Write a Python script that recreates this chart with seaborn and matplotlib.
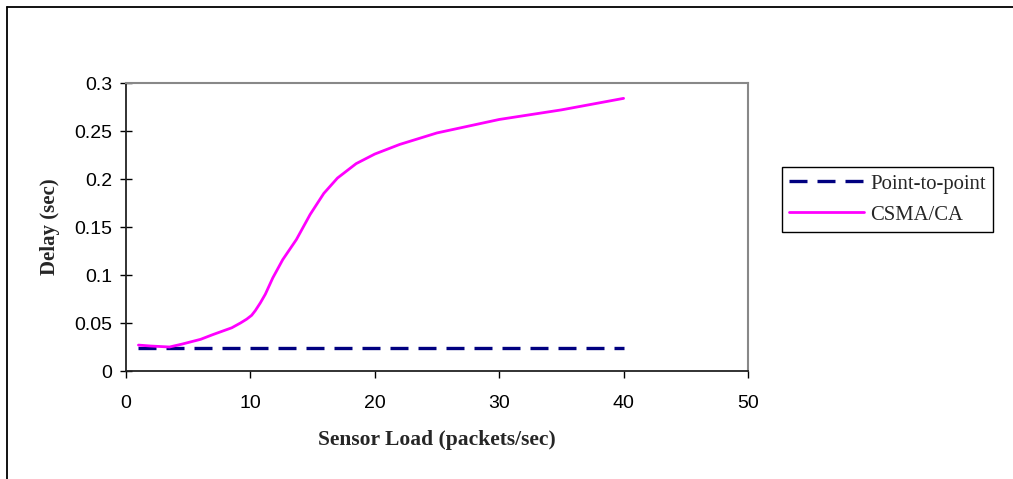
import matplotlib
matplotlib.use("Agg")
import matplotlib.pyplot as plt
from matplotlib.lines import Line2D
import seaborn as sns
import pandas as pd

# Sensor load (packets/sec) and measured delay (sec)
load_p2p = [1, 40]
delay_p2p = [0.024, 0.024]

load_csma = [1, 2, 3.5, 4.5, 6, 7, 8.5, 9.2, 9.7, 10.1, 10.4, 10.8, 11.2,
             11.8, 12.6, 13.7, 14.8, 15.9, 17, 18.5, 20, 22, 25, 30, 35, 40]
delay_csma = [0.027, 0.026, 0.025, 0.028, 0.033, 0.038, 0.045, 0.050, 0.054,
              0.058, 0.063, 0.071, 0.080, 0.097, 0.116, 0.137, 0.163, 0.185,
              0.201, 0.216, 0.226, 0.236, 0.248, 0.262, 0.272, 0.284]

x_ticks = [0, 10, 20, 30, 40, 50]
y_ticks = [0, 0.05, 0.1, 0.15, 0.2, 0.25, 0.3]
y_tick_labels = ["0", "0.05", "0.1", "0.15", "0.2", "0.25", "0.3"]

sns.set_theme(style="white")
plt.rcParams["font.family"] = ["Liberation Sans", "DejaVu Sans"]

fig = plt.figure(figsize=(10.13, 4.79), dpi=100)
ax = fig.add_axes([126 / 1013, 1 - 371 / 479, 622 / 1013, 288 / 479])

df_p2p = pd.DataFrame({"load": load_p2p, "delay": delay_p2p})
df_csma = pd.DataFrame({"load": load_csma, "delay": delay_csma})

P2P_LW, CSMA_LW = 2.4, 2.0
P2P_DASH = (5.4, 3.0)

sns.lineplot(data=df_p2p, x="load", y="delay", ax=ax, color="#000080",
             linewidth=P2P_LW, sort=False)
ax.lines[-1].set_dashes(P2P_DASH)
ax.lines[-1].set_dash_capstyle("butt")
sns.lineplot(data=df_csma, x="load", y="delay", ax=ax, color="#FF00FF",
             linewidth=CSMA_LW, sort=False)
ax.lines[-1].set_solid_joinstyle("round")

ax.set_xlim(0, 50)
ax.set_ylim(0, 0.3)
ax.set_xticks(x_ticks)
ax.set_xticklabels([str(t) for t in x_ticks])
ax.set_yticks(y_ticks)
ax.set_yticklabels(y_tick_labels)

ax.tick_params(axis="both", labelsize=14, colors="black", width=1)
ax.tick_params(axis="y", direction="inout", length=8, pad=6)
ax.tick_params(axis="x", direction="out", length=5, pad=12)
ax.xaxis.set_ticks_position("bottom")
ax.yaxis.set_ticks_position("left")

for side in ("left", "bottom"):
    ax.spines[side].set_color("#222222")
    ax.spines[side].set_linewidth(1.3)
for side in ("top", "right"):
    ax.spines[side].set_color("#888888")
    ax.spines[side].set_linewidth(1.5)

ax.set_xlabel("Sensor Load (packets/sec)", fontsize=15.5, fontweight="bold",
              family="Liberation Serif", labelpad=13)
ax.set_ylabel("Delay (sec)", fontsize=15, fontweight="bold",
              family="Liberation Serif", labelpad=10)

handles = [
    Line2D([], [], color="#000080", linewidth=P2P_LW, dashes=P2P_DASH),
    Line2D([], [], color="#FF00FF", linewidth=CSMA_LW),
]
leg = fig.legend(handles, ["Point-to-point", "CSMA/CA"],
                 loc="upper left", bbox_to_anchor=(782 / 1013, 1 - 167 / 479),
                 bbox_transform=fig.transFigure, fancybox=False, framealpha=1,
                 edgecolor="black", handlelength=3.6, handletextpad=0.3,
                 borderpad=0.35, labelspacing=0.55, borderaxespad=0,
                 prop={"family": "Liberation Serif", "size": 14.9})
leg.get_frame().set_linewidth(1.0)

# Outer chart frame (top and left edges visible)
fig.add_artist(Line2D([6.5 / 1013, 1.0], [1 - 6.5 / 479, 1 - 6.5 / 479],
                      transform=fig.transFigure, color="black", linewidth=1.3))
fig.add_artist(Line2D([6.5 / 1013, 6.5 / 1013], [0.0, 1 - 6.5 / 479],
                      transform=fig.transFigure, color="black", linewidth=1.3))

fig.savefig("out.png", dpi=100, facecolor="white")
